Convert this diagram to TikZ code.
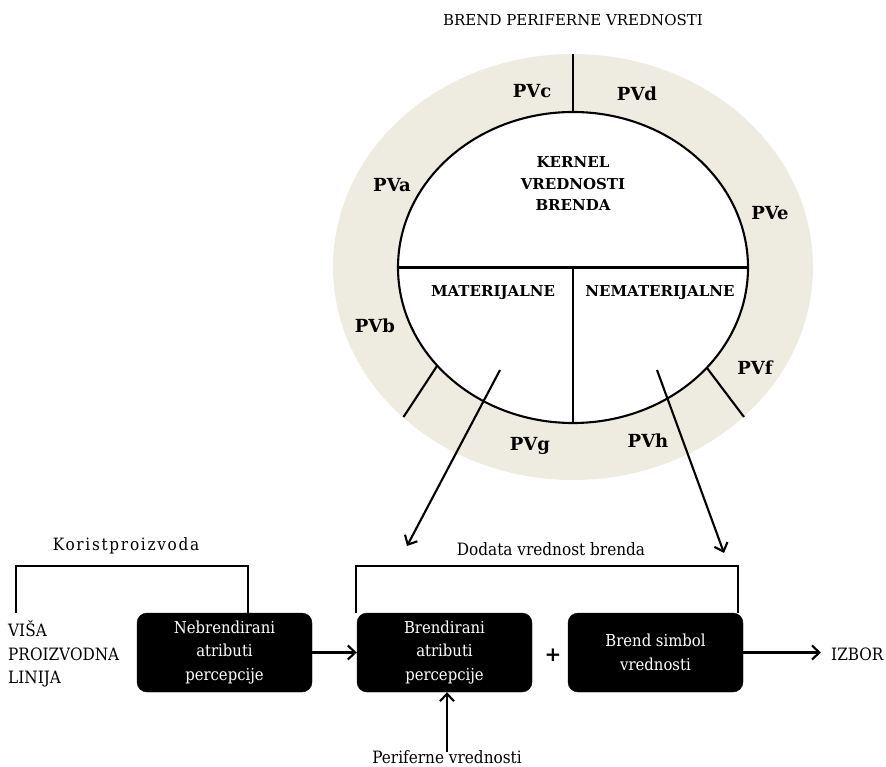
\documentclass[tikz,border=0pt]{standalone}
\usepackage{fontspec}
\setmainfont{DejaVu Serif}
\newfontfamily\slimserif[FakeStretch=0.9]{DejaVu Serif}
\usetikzlibrary{arrows.meta}
\definecolor{ringfill}{HTML}{EEECE1}
\begin{document}
\begin{tikzpicture}[x=1pt,y=-1pt,
  line/.style={line width=2.1pt},
  arr/.style={line width=2.1pt,-{Straight Barb[length=7.5pt,width=14pt,line width=2.1pt]}},
  pv/.style={font=\bfseries\fontsize{18}{20}\selectfont, inner sep=0pt},
  core/.style={font=\bfseries\fontsize{15}{21.5}\selectfont, align=center, inner sep=0pt},
  lbl/.style={font=\slimserif\fontsize{17}{23.5}\selectfont, inner sep=0pt},
  blk/.style={draw=black, fill=black, rounded corners=10pt, minimum width=175pt,
    minimum height=79pt, text=white, align=center,
    font=\slimserif\fontsize{16.5}{23.5}\selectfont, inner sep=0pt},
]
\useasboundingbox (0,0) rectangle (886,767);

% title above the ring
\node[inner sep=0pt, font=\fontsize{15}{18}\selectfont] (title) at (573,20) {BREND PERIFERNE VREDNOSTI};

% peripheral ring and kernel ellipse
\fill[ringfill] (573,267) ellipse [x radius=240pt, y radius=213pt];
\draw[line, fill=white] (573,267.5) ellipse [x radius=175pt, y radius=155.5pt];

% dividers of the kernel
\coordinate (hL) at (398,267.5);
\coordinate (hR) at (748,267.5);
\coordinate (vT) at (573,267.5);
\coordinate (vB) at (573,423);
\draw[line] (hL) -- (hR);
\draw[line] (vT) -- (vB);

% dividers of the ring
\coordinate (tOut) at (573,54);
\coordinate (tIn)  at (573,112);
\coordinate (lIn)  at (437,366);
\coordinate (lOut) at (403.5,417);
\coordinate (rIn)  at (707,368);
\coordinate (rOut) at (744,417);
\draw[line] (tOut) -- (tIn);
\draw[line] (lIn) -- (lOut);
\draw[line] (rIn) -- (rOut);

% kernel texts
\node[core] (kernel) at (573,184) {KERNEL\\VREDNOSTI\\BRENDA};
\node[core] (mat) at (493,293) {MATERIJALNE};
\node[core] (nemat) at (660,293) {NEMATERIJALNE};

% peripheral values
\node[pv] (pva) at (392,185) {PVa};
\node[pv] (pvb) at (375,326) {PVb};
\node[pv] (pvc) at (532,91)  {PVc};
\node[pv] (pvd) at (637,94)  {PVd};
\node[pv] (pve) at (770,213) {PVe};
\node[pv] (pvf) at (755,368) {PVf};
\node[pv] (pvg) at (530,446) {PVg};
\node[pv] (pvh) at (648,441) {PVh};

% lower chain of blocks
\node[blk] (n1) at (224.5,652.5) {Nebrendirani\\atributi\\percepcije};
\node[blk] (n2) at (444.5,652.5) {Brendirani\\atributi\\percepcije};
\node[blk] (n3) at (655.5,652.5) {Brend simbol\\vrednosti};
\node[font=\bfseries\fontsize{20}{20}\selectfont, inner sep=0pt] (plus) at (553,655) {+};

\node[lbl, align=left, anchor=west] (visa) at (8,654) {VIŠA\\PROIZVODNA\\LINIJA};
\node[lbl, anchor=west] (izbor) at (831,654) {IZBOR};
\node[lbl] (perif) at (447,757) {Periferne vrednosti};
\node[lbl, font=\slimserif\addfontfeature{LetterSpace=10}\fontsize{17}{20}\selectfont] (korist) at (126,546) {Koristproizvoda};
\node[lbl] (dodata) at (551,549) {Dodata vrednost brenda};

% brackets over the blocks
\coordinate (kL) at (16,613);
\coordinate (kT) at (16,566);
\coordinate (kR) at (248,566);
\draw[line] (kL) -- (kT) -- (kR) -- (kR |- n1.north);
\coordinate (dL) at (356,566);
\coordinate (dR) at (738,566);
\draw[line] (dL |- n2.north) -- (dL) -- (dR) -- (dR |- n3.north);

% arrows of the chain
\draw[arr] (n1.east) -- (n2.west);
\draw[arr] (n3.east) -- ([xshift=-10pt]izbor.west |- n3.east);
\coordinate (pvUp) at (447,752);
\draw[arr] (pvUp) -- (pvUp |- n2.south);

% arrows leaving the kernel halves
\coordinate (mStart) at (500,370);
\coordinate (mEnd) at (407,546);
\coordinate (nStart) at (657,370);
\coordinate (nEnd) at (724,553);
\draw[arr] (mStart) -- (mEnd);
\draw[arr] (nStart) -- (nEnd);
\end{tikzpicture}
\end{document}
